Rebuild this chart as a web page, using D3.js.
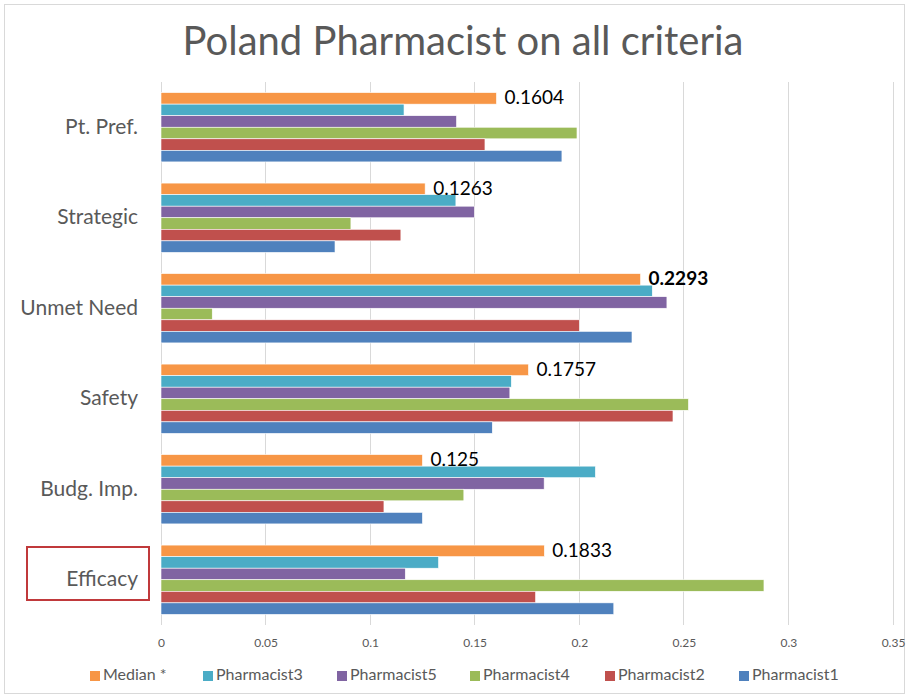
<!DOCTYPE html>
<html><head><meta charset="utf-8">
<script src="https://cdn.jsdelivr.net/npm/d3@7"></script>
<style>body{margin:0;background:#fff}svg{display:block}</style>
</head><body>
<script>
const categories = ["Pt. Pref.","Strategic","Unmet Need","Safety","Budg. Imp.","Efficacy"];
const seriesNames = ["Median *","Pharmacist3","Pharmacist5","Pharmacist4","Pharmacist2","Pharmacist1"];
const median      = [0.1604,0.1263,0.2293,0.1757,0.125,0.1833];
const pharmacist3 = [0.1162,0.1410,0.2349,0.1675,0.2077,0.1327];
const pharmacist5 = [0.1413,0.1498,0.2419,0.1668,0.1832,0.1168];
const pharmacist4 = [0.1989,0.0908,0.0245,0.2522,0.1448,0.2883];
const pharmacist2 = [0.1549,0.1147,0.2000,0.2448,0.1066,0.1791];
const pharmacist1 = [0.1917,0.0832,0.2252,0.1584,0.1250,0.2165];
const medianLabels = ["0.1604","0.1263","0.2293","0.1757","0.125","0.1833"];
const ticks = [0,0.05,0.1,0.15,0.2,0.25,0.3,0.35];
const tickLabels = ["0","0.05","0.1","0.15","0.2","0.25","0.3","0.35"];
const colors = ["#F79646","#4BACC6","#8064A2","#9BBB59","#C0504D","#4F81BD"];

const seriesValues = [median,pharmacist3,pharmacist5,pharmacist4,pharmacist2,pharmacist1];
const W=909,H=698, font="Lato, 'Open Sans', sans-serif";
const svg=d3.select("body").append("svg").attr("width",W).attr("height",H);
svg.append("rect").attr("x",4.5).attr("y",4.5).attr("width",900).attr("height",689)
  .attr("fill","#fff").attr("stroke","#d9d9d9");

svg.append("text").attr("x",463).attr("y",55).attr("text-anchor","middle")
  .attr("font-family",font).attr("font-size",40).attr("fill","#595959")
  .text("Poland Pharmacist on all criteria");

const x=d3.scaleLinear().domain([0,0.35]).range([161,893]);
const y=d3.scaleBand().domain(categories).range([82,625]).paddingInner(0.234).paddingOuter(0.117);
const yi=d3.scaleBand().domain(seriesNames).range([0,y.bandwidth()]);

// gridlines
svg.append("g").selectAll("line").data(ticks).join("line")
  .attr("x1",d=>x(d)).attr("x2",d=>x(d)).attr("y1",82).attr("y2",625)
  .attr("stroke","#d9d9d9").attr("stroke-width",1).attr("shape-rendering","crispEdges");

// x axis labels
const xAxis=d3.axisBottom(x).tickValues(ticks).tickFormat((d,i)=>tickLabels[i]).tickSize(0).tickPadding(0);
const gx=svg.append("g").attr("transform","translate(0,638)").call(xAxis);
gx.select(".domain").remove();
gx.selectAll("text").attr("font-family",font).attr("font-size",12).attr("fill","#595959");

// bars
seriesNames.forEach((s,si)=>{
  svg.append("g").selectAll("rect").data(categories).join("rect")
    .attr("x",x(0)).attr("y",(c)=>y(c)+yi(s))
    .attr("width",(c,i)=>x(seriesValues[si][i])-x(0))
    .attr("height",yi.bandwidth())
    .attr("fill",colors[si]).attr("stroke","#fff").attr("stroke-width",0.6);
});

// median labels
svg.append("g").selectAll("text").data(categories).join("text")
  .attr("x",(c,i)=>x(median[i])+8)
  .attr("y",c=>y(c)+yi(seriesNames[0])+yi.bandwidth()/2+1)
  .attr("dominant-baseline","middle")
  .attr("font-family",font).attr("font-size",19).attr("fill","#000")
  .attr("font-weight",(c,i)=>i===2?"bold":"normal")
  .text((c,i)=>medianLabels[i]);

// category labels
const yAxis=d3.axisLeft(y).tickSize(0).tickPadding(0);
const gy=svg.append("g").attr("transform","translate(138,0)").call(yAxis);
gy.select(".domain").remove();
gy.selectAll("text").attr("font-family",font).attr("font-size",21).attr("fill","#595959");

// highlight box around Efficacy
svg.append("rect").attr("x",27).attr("y",547).attr("width",122).attr("height",53)
  .attr("fill","none").attr("stroke","#C0393B").attr("stroke-width",2);

// legend
const legX=[90,203,337,470,605,739];
const lg=svg.append("g").selectAll("g").data(seriesNames).join("g")
  .attr("transform",(d,i)=>`translate(${legX[i]},676)`);
lg.append("rect").attr("x",0).attr("y",-5).attr("width",10).attr("height",10).attr("fill",(d,i)=>colors[i]);
lg.append("text").attr("x",13).attr("y",0).attr("dominant-baseline","middle")
  .attr("font-family",font).attr("font-size",16).attr("fill","#595959").text(d=>d);
</script>
</body></html>
